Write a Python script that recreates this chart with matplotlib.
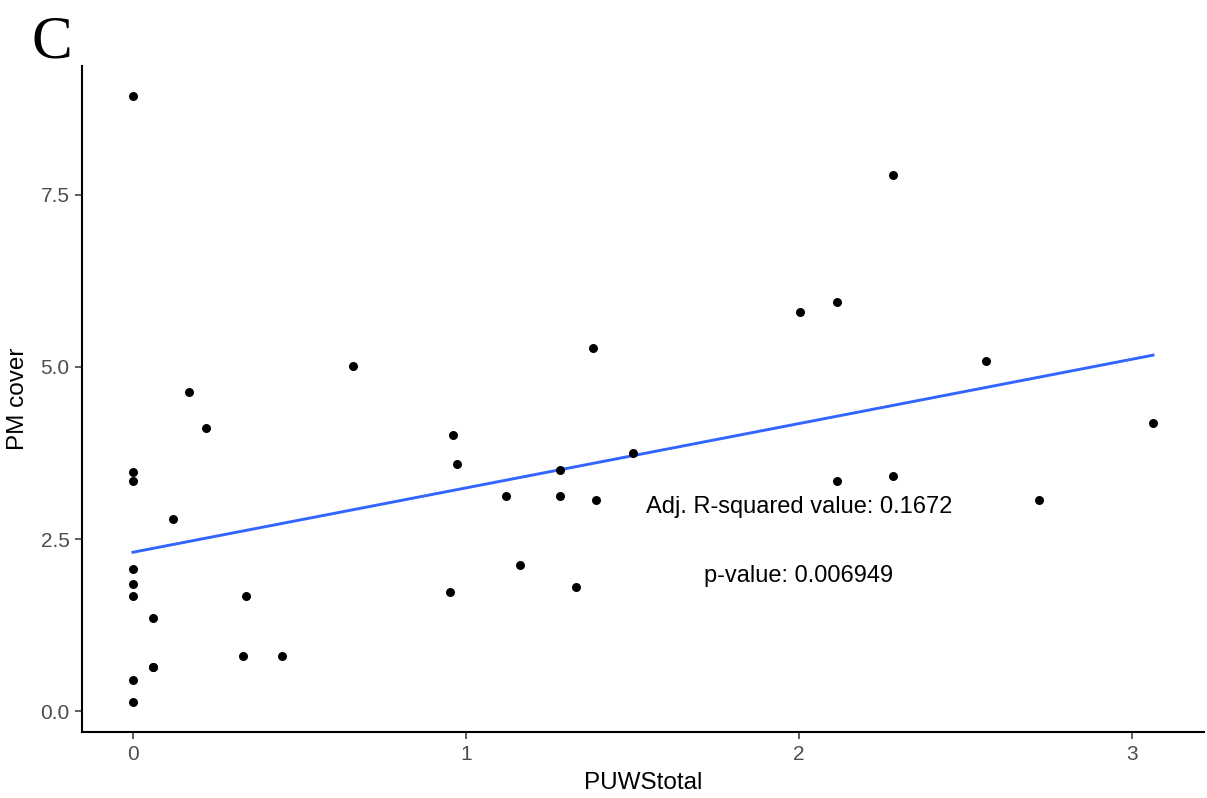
import numpy as np
import matplotlib
matplotlib.use("Agg")
import matplotlib.pyplot as plt

# values
# (two points overlap near (0.06, 0.64); the stated adj. R2 / p-value need n=37)
puws_total = [0, 0, 0, 0, 0, 0, 0, 0,
              0.060, 0.060, 0.060, 0.121, 0.167, 0.218, 0.330, 0.340,
              0.446, 0.662, 0.952, 0.962, 0.973, 1.120, 1.162, 1.283,
              1.283, 1.329, 1.380, 1.391, 1.502, 2.003, 2.115, 2.115,
              2.282, 2.283, 2.562, 2.720, 3.063]
pm_cover = [8.93, 3.47, 3.34, 2.07, 1.85, 1.67, 0.46, 0.14,
            1.36, 0.64, 0.64, 2.79, 4.63, 4.11, 0.81, 1.67,
            0.81, 5.01, 1.73, 4.01, 3.59, 3.12, 2.12, 3.51,
            3.12, 1.80, 5.28, 3.07, 3.75, 5.80, 5.95, 3.34,
            7.79, 3.41, 5.08, 3.07, 4.18]
y_ticks = [0.0, 2.5, 5.0, 7.5]
x_ticks = [0, 1, 2, 3]
r2_label = "Adj. R-squared value: 0.1672"
p_label = "p-value: 0.006949"

plt.rcParams["font.family"] = ["Liberation Sans", "DejaVu Sans"]

x = np.array(puws_total)
y = np.array(pm_cover)

fig = plt.figure(figsize=(12.07, 7.98), dpi=100)
ax = fig.add_axes([82 / 1207, 66 / 798, 1122 / 1207, 666 / 798])

ax.scatter(x, y, s=42, color="black", zorder=3, linewidths=0)

# linear fit like geom_smooth(method="lm", se=FALSE)
slope, intercept = np.polyfit(x, y, 1)
xs = np.linspace(x.min(), x.max(), 80)
ax.plot(xs, intercept + slope * xs, color="#3366FF", lw=2.1, zorder=2)

ax.text(2.0, 2.97, r2_label, ha="center", va="center", fontsize=17, color="black")
ax.text(2.0, 1.96, p_label, ha="center", va="center", fontsize=17, color="black")

# ggplot style 5% expansion
xr = x.max() - x.min()
yr = y.max() - y.min()
ax.set_xlim(x.min() - 0.05 * xr, x.max() + 0.05 * xr)
ax.set_ylim(y.min() - 0.05 * yr, y.max() + 0.05 * yr)

ax.set_xticks(x_ticks)
ax.set_xticklabels([str(t) for t in x_ticks])
ax.set_yticks(y_ticks)
ax.set_yticklabels(["%.1f" % t for t in y_ticks])
ax.tick_params(axis="both", length=5, width=1.1, color="#333333",
               labelcolor="#4D4D4D", labelsize=15, pad=4)

for side in ["top", "right"]:
    ax.spines[side].set_visible(False)
for side in ["left", "bottom"]:
    ax.spines[side].set_linewidth(1.5)
    ax.spines[side].set_color("black")

ax.set_xlabel("PUWStotal", fontsize=17.5, labelpad=6)
ax.set_ylabel("PM cover", fontsize=17.5, labelpad=8)

fig.text(32 / 1207, 1 - 57 / 798, "C", fontsize=44, family=["Liberation Serif", "DejaVu Serif"],
         ha="left", va="baseline")

fig.savefig("out.png", dpi=100)
